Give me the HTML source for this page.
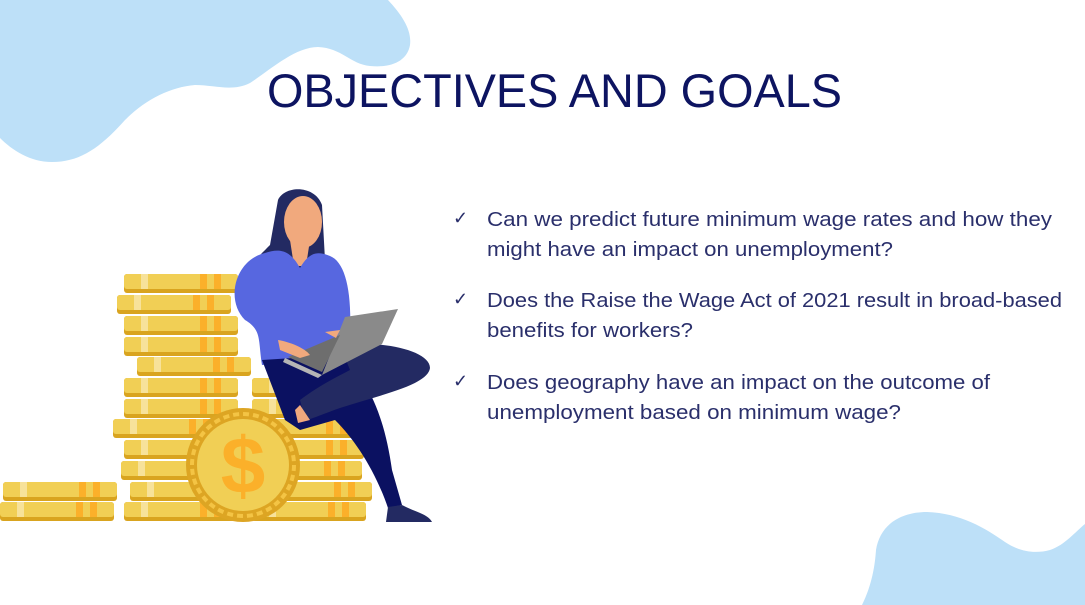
<!DOCTYPE html>
<html><head><meta charset="utf-8">
<style>
html,body{margin:0;padding:0;background:#fff;}
svg{display:block}
text{font-family:"Liberation Sans",sans-serif}
</style></head>
<body>
<svg width="1085" height="605" viewBox="0 0 1085 605">
  <path fill="#bde0f8" d="M0,0 L388,0 C402,15 412,30 410,45 C407,62 390,68 370,66 C350,64 342,48 318,47 C295,47 270,70 250,83 C232,92 215,85 195,85 C170,87 145,100 125,120 C100,148 80,162 52,162 C30,162 12,150 0,138 Z"/>
  <path fill="#bde0f8" d="M862,605 C872,585 875,565 876,550 C880,525 900,512 927,512 C960,513 985,528 1005,542 C1020,552 1035,554 1050,550 C1065,545 1075,532 1085,524 L1085,605 Z"/>

  <text x="267" y="107" font-size="47" fill="#0d1461" textLength="575" lengthAdjust="spacingAndGlyphs">OBJECTIVES AND GOALS</text>

  <g fill="#2a2f6b" font-size="20">
    <text x="453" y="224" font-size="18">✓</text>
    <text x="487" y="226" textLength="565" lengthAdjust="spacingAndGlyphs">Can we predict future minimum wage rates and how they</text>
    <text x="487" y="256" textLength="406" lengthAdjust="spacingAndGlyphs">might have an impact on unemployment?</text>
    <text x="453" y="305" font-size="18">✓</text>
    <text x="487" y="307" textLength="575" lengthAdjust="spacingAndGlyphs">Does the Raise the Wage Act of 2021 result in broad-based</text>
    <text x="487" y="337" textLength="206" lengthAdjust="spacingAndGlyphs">benefits for workers?</text>
    <text x="453" y="387" font-size="18">✓</text>
    <text x="487" y="389" textLength="503" lengthAdjust="spacingAndGlyphs">Does geography have an impact on the outcome of</text>
    <text x="487" y="419" textLength="414" lengthAdjust="spacingAndGlyphs">unemployment based on minimum wage?</text>
  </g>

  <g>
    <defs>
      <g id="coin">
        <rect x="0" y="0" width="114" height="19" rx="3" fill="#d9a41f"/>
        <rect x="0" y="0" width="114" height="15" rx="3" fill="#f1cf55"/>
        <rect x="17" y="0" width="7" height="15" fill="#f7e29a"/>
        <rect x="76" y="0" width="7" height="15" fill="#fbb02a"/>
        <rect x="90" y="0" width="7" height="15" fill="#fbb02a"/>
      </g>
    </defs>
    <use href="#coin" x="252" y="378"/><use href="#coin" x="252" y="399"/>
    <use href="#coin" x="250" y="419"/><use href="#coin" x="250" y="440"/>
    <use href="#coin" x="248" y="461"/><use href="#coin" x="258" y="482"/>
    <use href="#coin" x="252" y="502"/>
    <use href="#coin" x="3" y="482"/><use href="#coin" x="0" y="502"/>
    <use href="#coin" x="124" y="274"/><use href="#coin" x="117" y="295"/>
    <use href="#coin" x="124" y="316"/><use href="#coin" x="124" y="337"/>
    <use href="#coin" x="137" y="357"/><use href="#coin" x="124" y="378"/>
    <use href="#coin" x="124" y="399"/><use href="#coin" x="113" y="419"/>
    <use href="#coin" x="124" y="440"/><use href="#coin" x="121" y="461"/>
    <use href="#coin" x="130" y="482"/><use href="#coin" x="124" y="502"/>
    <circle cx="243" cy="465" r="57" fill="#dda523"/>
    <circle cx="243" cy="465" r="51" fill="none" stroke="#f4c444" stroke-width="4" stroke-dasharray="6 4"/>
    <circle cx="243" cy="465" r="46" fill="#f1cf55"/>
    <text x="243" y="493" font-size="80" font-weight="bold" fill="#fbb02a" text-anchor="middle">$</text>
    <path fill="#232a62" d="M278,200 C285,185 315,185 322,205 L325,260 C335,275 340,285 335,280 L250,275 C240,275 255,260 270,245 Z"/>
    <ellipse cx="303" cy="222" rx="19" ry="26" fill="#f1a97d"/>
    <path fill="#f1a97d" d="M290,240 L310,240 L306,266 L294,266 Z"/>
    <path fill="#5767e0" d="M265,253 C280,248 290,250 300,268 C310,250 320,252 330,256 C345,262 352,290 350,335 L345,360 L262,365 C258,340 262,330 245,320 C225,300 235,260 265,253 Z"/>
    <path fill="#0b1161" d="M262,360 L340,355 C370,380 385,420 392,470 L402,505 L388,508 C375,470 355,440 335,420 L300,430 L285,420 Z"/>
    <path fill="#232a62" d="M340,345 C380,340 430,350 430,368 C428,385 380,395 340,408 C320,415 310,420 305,420 L300,400 C320,385 335,378 350,370 Z"/>
    <path fill="#f1a97d" d="M300,405 L310,420 L298,423 L295,410 Z"/>
    <path fill="#232a62" d="M388,507 L402,505 C415,512 428,514 432,522 L386,522 Z"/>
    <path fill="#8a8a8a" d="M345,317 L398,309 L382,344 L322,375 Z"/>
    <path fill="#b5b5b5" d="M285,358 L322,375 L318,378 L283,362 Z"/>
    <path fill="#6e6e6e" d="M288,357 L340,335 L322,372 Z"/>
    <path fill="#f1a97d" d="M278,340 C290,342 305,348 310,355 L300,358 L280,350 Z M325,332 L340,330 L336,338 Z"/>
  </g>
</svg>
</body></html>
